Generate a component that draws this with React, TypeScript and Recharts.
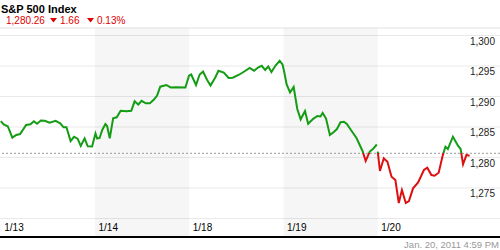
import React from "react";
import {
  LineChart,
  Line,
  XAxis,
  YAxis,
  CartesianGrid,
  ReferenceArea,
  ReferenceLine,
} from "recharts";

// trading sessions shown on the axis
const sessionLabels = ["1/13", "1/14", "1/18", "1/19", "1/20"];

// [minutes since open, index level], one list per session
const jan13: [number, number][] = [
  [0, 1285.98], [12, 1285.41], [29, 1285.13], [48, 1283.25], [64, 1283.69],
  [80, 1283.85], [105, 1285.33], [123, 1285.46], [137, 1285.95], [150, 1285.54],
  [166, 1286.07], [182, 1286.02], [202, 1285.7], [227, 1286.02], [246, 1285.61],
  [260, 1284.95], [272, 1284.95], [289, 1282.7], [303, 1283.39], [318, 1283.08],
  [331, 1281.89], [347, 1283.13], [360, 1281.84], [378, 1281.8],
];
const jan14: [number, number][] = [
  [2, 1283.93], [9, 1283.11], [19, 1283.2], [30, 1284.51], [43, 1285.49],
  [50, 1285.16], [61, 1283.15], [75, 1286.43], [90, 1286.59], [106, 1287.66],
  [130, 1287.57], [150, 1287.66], [164, 1289.21], [179, 1288.69], [193, 1289.3],
  [210, 1288.89], [227, 1288.89], [244, 1289.49], [257, 1290.16], [270, 1291.61],
  [295, 1291.89], [313, 1291.48], [334, 1291.51], [374, 1291.48], [389, 1293.41],
];
const jan18: [number, number][] = [
  [8, 1293.61], [28, 1291.89], [43, 1293.61], [57, 1294.07], [74, 1292.7],
  [88, 1291.8], [107, 1293.08], [121, 1294.21], [143, 1293.93], [163, 1293.03],
  [180, 1293.08], [206, 1293.57], [231, 1294.18], [250, 1294.67], [268, 1294.23],
  [286, 1294.79], [300, 1295.03], [314, 1294.34], [327, 1294.92], [340, 1294.02],
  [357, 1295.08], [374, 1295.85], [386, 1295.25],
];
const jan19: [number, number][] = [
  [3, 1294.02], [13, 1291.97], [27, 1290.66], [42, 1291.56], [57, 1287.95],
  [71, 1286.26], [89, 1287.62], [102, 1285.54], [123, 1286.34], [140, 1286.8],
  [153, 1286.72], [162, 1287.3], [176, 1286.39], [192, 1283.69], [208, 1284.18],
  [221, 1284.67], [236, 1285.79], [250, 1285.87], [262, 1285.49], [279, 1284.51],
  [302, 1283.2], [327, 1281.07], [340, 1279.43], [357, 1280.98], [370, 1281.39],
  [386, 1282.13],
];
const jan20: [number, number][] = [
  [0, 1280.95], [9, 1277.79], [25, 1279.87], [40, 1279.31], [57, 1276.85],
  [73, 1276.31], [87, 1272.54], [100, 1274.67], [116, 1272.54], [129, 1272.87],
  [146, 1274.95], [167, 1275.93], [191, 1277.95], [205, 1278.33], [222, 1277.13],
  [235, 1277.02], [252, 1277.51], [270, 1280.52], [280, 1281.77], [290, 1281.39],
  [311, 1283.41], [332, 1281.93], [343, 1281.39], [353, 1278.89], [367, 1280.41],
  [380, 1280.3],
];

const sessions = [jan13, jan14, jan18, jan19, jan20];
const gapBefore = ["1/20"]; // line is broken at this open
const refLevel = 1280.69; // dashed reference line
const yTicks = [1270, 1275, 1280, 1285, 1290, 1295, 1300];
const shadedSessions = [1, 3];

const SESSION_MIN = 390;
const data: { x: number; price: number | null }[] = [];
sessions.forEach((pts, d) => {
  if (gapBefore.includes(sessionLabels[d])) data.push({ x: d - 0.002, price: null });
  pts.forEach(([m, p]) => data.push({ x: d + m / SESSION_MIN, price: p }));
});

const prices = sessions.flat().map((p) => p[1]);
const maxP = Math.max(...prices);
const minP = Math.min(...prices);
const splitOffset = (maxP - refLevel) / (maxP - minP);

const FONT = '"Liberation Sans", Arial, sans-serif';
const GREEN = "#149c14";
const RED = "#dc1010";

const fmt = (v: number) => v.toLocaleString("en-US");

const YTick = (props: any) => {
  const { x, y, payload } = props;
  if (payload.value === 1270) return <g />;
  return (
    <text x={x} y={y + 9} textAnchor="end" fontSize={10} fontFamily={FONT} fill="#222">
      {fmt(payload.value)}
    </text>
  );
};

const XTick = (props: any) => {
  const { x, y, payload } = props;
  return (
    <text x={x + 3.5} y={y - 6} textAnchor="start" fontSize={10} fontFamily={FONT} fill="#000">
      {sessionLabels[payload.value]}
    </text>
  );
};

export default function App() {
  return (
    <div style={{ position: "absolute", left: 0, top: 0, width: 500, height: 250, background: "#fff" }}>
      <LineChart
        width={500}
        height={250}
        data={data}
        margin={{ top: 28, right: 0, bottom: 12, left: 0 }}
      >
        <defs>
          <linearGradient id="upDown" x1="0" y1="0" x2="0" y2="1">
            <stop offset={splitOffset} stopColor={GREEN} />
            <stop offset={splitOffset} stopColor={RED} />
          </linearGradient>
        </defs>
        {shadedSessions.map((d) => (
          <ReferenceArea
            key={d}
            x1={d}
            x2={d + 1}
            fill="#000"
            fillOpacity={0.035}
            stroke="none"
          />
        ))}
        <CartesianGrid vertical={false} stroke="#e9e9e9" />
        <ReferenceLine y={1301.23} stroke="#ececec" />
        <ReferenceLine y={refLevel} stroke="#999" strokeDasharray="2 2" />
        <XAxis
          dataKey="x"
          type="number"
          domain={[-0.008, 5.297]}
          ticks={[0, 1, 2, 3, 4]}
          height={1}
          tickSize={0}
          tickMargin={0}
          tickLine={false}
          axisLine={{ stroke: "#000", strokeWidth: 2 }}
          tick={(p: any) => <XTick {...p} />}
          interval={0}
        />
        <YAxis
          orientation="right"
          mirror
          width={1}
          domain={[1266.97, 1301.23]}
          ticks={yTicks}
          tickSize={0}
          tickMargin={5}
          tickLine={false}
          axisLine={false}
          tick={(p: any) => <YTick {...p} />}
          interval={0}
        />
        <Line
          type="linear"
          dataKey="price"
          stroke="url(#upDown)"
          strokeWidth={2}
          dot={false}
          activeDot={false}
          isAnimationActive={false}
        />
      </LineChart>
      <svg
        width={500}
        height={250}
        style={{ position: "absolute", left: 0, top: 0, pointerEvents: "none" }}
        fontFamily={FONT}
      >
        <text x={1} y={13} fontSize={11} fontWeight="bold" fill="#000">
          S&amp;P 500 Index
        </text>
        <text x={6} y={23.5} fontSize={10} fill="#e00000">
          1,280.26
        </text>
        <polygon points="50,18 57,18 53.5,22.5" fill="#e00000" />
        <text x={60} y={23.5} fontSize={10} fill="#e00000">
          1.66
        </text>
        <polygon points="87,18 94,18 90.5,22.5" fill="#e00000" />
        <text x={97} y={23.5} fontSize={10} fill="#e00000">
          0.13%
        </text>
        <text x={499} y={247.5} textAnchor="end" fontSize={9.5} fill="#999">
          Jan. 20, 2011 4:59 PM
        </text>
      </svg>
    </div>
  );
}
